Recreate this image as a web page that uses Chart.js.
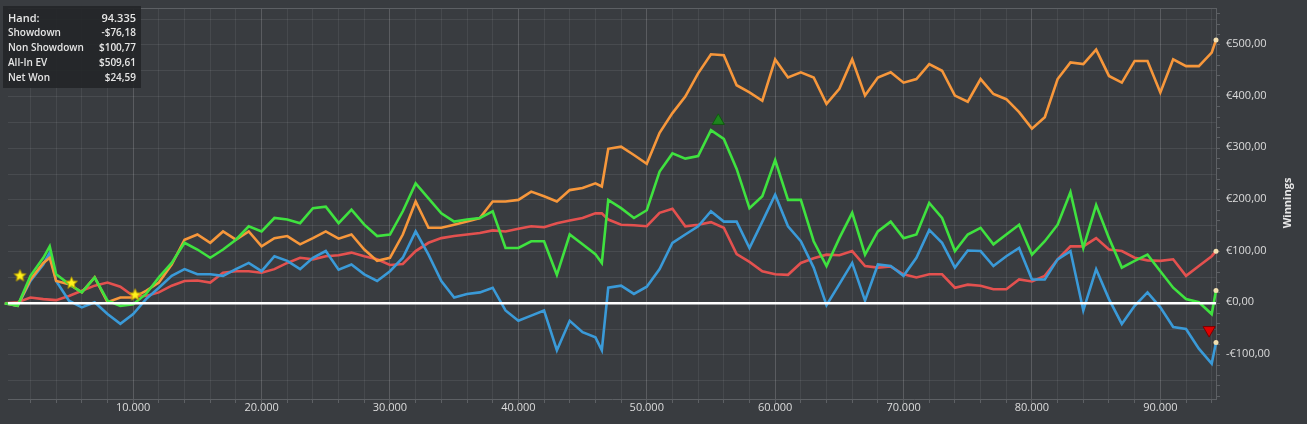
<!DOCTYPE html>
<html>
<head>
<meta charset="utf-8">
<script src="https://cdn.jsdelivr.net/npm/chart.js@4.4.1/dist/chart.umd.min.js"></script>
<style>
	html, body { margin: 0; padding: 0; background: #393c40; }
	#wrap { position: relative; width: 1307px; height: 424px; }
	#info {
		position: absolute; left: 3px; top: 6px; width: 138px; height: 82px;
		background: rgba(36, 38, 40, 0.92); box-sizing: border-box; padding: 4px 5px 0 5px;
		font-family: 'Open Sans', sans-serif; font-weight: 600; color: #e6e6e6;
	}
	.row { display: flex; justify-content: space-between; height: 15px; line-height: 15px; font-size: 10px; }
	.row.first { font-size: 11px; }
</style>
</head>
<body>
<div id="wrap">
	<canvas id="grafico" width="1307" height="424"></canvas>
	<div id="info">
		<div class="row first"><span>Hand:</span><span>94.335</span></div>
		<div class="row"><span>Showdown</span><span>-$76,18</span></div>
		<div class="row"><span>Non Showdown</span><span>$100,77</span></div>
		<div class="row"><span>All-In EV</span><span>$509,61</span></div>
		<div class="row"><span>Net Won</span><span>$24,59</span></div>
	</div>
</div>
<script>
// maos (eixo x)
const hands = [
	0, 1000, 2000, 3000, 3500, 4000, 5000, 6000, 7000, 8000, 9000,
	10000, 11000, 12000, 13000, 14000, 15000, 16000, 17000, 18000, 19000,
	20000, 21000, 22000, 23000, 24000, 25000, 26000, 27000, 28000, 29000,
	30000, 31000, 32000, 33000, 34000, 35000, 36000, 37000, 38000, 39000,
	40000, 41000, 42000, 43000, 44000, 45000, 46000, 46500, 47000, 48000, 49000,
	50000, 51000, 52000, 53000, 54000, 55000, 56000, 57000, 58000, 59000,
	60000, 61000, 62000, 63000, 64000, 65000, 66000, 67000, 68000, 69000,
	70000, 71000, 72000, 73000, 74000, 75000, 76000, 77000, 78000, 79000,
	80000, 81000, 82000, 83000, 84000, 85000, 86000, 87000, 88000, 89000,
	90000, 91000, 92000, 93000, 94000, 94335
];

// marcas do eixo x (linhas de grade a cada 2.000 maos)
const xTicks = [
	2000, 4000, 6000, 8000, 10000, 12000, 14000, 16000, 18000, 20000,
	22000, 24000, 26000, 28000, 30000, 32000, 34000, 36000, 38000, 40000,
	42000, 44000, 46000, 48000, 50000, 52000, 54000, 56000, 58000, 60000,
	62000, 64000, 66000, 68000, 70000, 72000, 74000, 76000, 78000, 80000,
	82000, 84000, 86000, 88000, 90000, 92000, 94000
];

// Net Won (verde)
const netWon = [
	0, -5, 53, 88, 110, 56, 37, 21, 50, 5, -5,
	-2, 18, 50, 78, 117, 104, 88, 104, 123, 149,
	139, 165, 162, 155, 184, 187, 155, 181, 152, 130,
	133, 178, 232, 203, 174, 158, 162, 165, 178, 107,
	107, 120, 120, 55, 133, 114, 95, 78, 200, 184, 165,
	180, 255, 290, 280, 285, 335, 318, 260, 184, 207,
	277, 200, 200, 120, 72, 126, 175, 94, 139, 158,
	126, 133, 194, 165, 101, 133, 146, 114, 133, 152,
	94, 120, 152, 215, 107, 190, 126, 69, 82, 94,
	62, 30, 8, 2, -21, 24.59
];

// All-In EV (laranja)
const allInEV = [
	0, -5, 46, 78, 88, 43, 37, 21, 50, 2, 11,
	11, 24, 40, 75, 123, 133, 117, 139, 123, 139,
	110, 126, 130, 114, 126, 139, 125, 133, 104, 82,
	88, 133, 197, 146, 146, 152, 158, 165, 197, 197,
	200, 216, 207, 197, 219, 223, 232, 226, 299, 303, 287,
	270, 330, 368, 400, 445, 482, 480, 422, 408, 392,
	472, 437, 447, 437, 386, 415, 472, 402, 437, 447,
	427, 434, 463, 450, 402, 390, 434, 405, 395, 370,
	338, 360, 434, 466, 463, 491, 440, 427, 469, 469,
	408, 472, 459, 459, 485, 509.61
];

// Showdown (azul)
const showdown = [
	0, -5, 43, 75, 98, 43, 5, -8, 2, -21, -40,
	-21, 8, 30, 53, 66, 56, 56, 53, 66, 78,
	62, 91, 82, 66, 88, 101, 65, 75, 56, 43,
	62, 88, 139, 94, 43, 11, 18, 21, 30, -14,
	-34, -24, -14, -91, -34, -56, -66, -91, 30, 34, 18,
	32, 66, 117, 133, 149, 178, 158, 158, 107, 158,
	210, 149, 120, 69, -4, 37, 78, 5, 75, 72,
	53, 88, 142, 117, 69, 102, 101, 72, 91, 107,
	46, 46, 85, 101, -14, 66, 8, -40, -5, 21,
	-8, -46, -50, -88, -117, -76.18
];

// Non Showdown (vermelho)
const nonShowdown = [
	0, 2, 11, 8, 7, 6, 14, 24, 34, 40, 32,
	14, 14, 21, 34, 43, 44, 40, 59, 62, 62,
	59, 66, 78, 88, 85, 91, 93, 98, 91, 85,
	74, 76, 101, 117, 126, 130, 133, 136, 141, 139,
	144, 149, 147, 155, 160, 165, 174, 174, 162, 152, 151,
	149, 175, 183, 149, 152, 157, 146, 95, 80, 62,
	56, 55, 78, 87, 94, 93, 101, 72, 69, 71,
	56, 50, 56, 56, 30, 36, 34, 27, 27, 46,
	42, 53, 85, 110, 110, 126, 104, 101, 88, 83,
	82, 85, 53, 72, 91, 100.77
];

// marcadores
const starHands = [1180, 5200, 10150];
const starValues = [53, 39, 16];
const peakHand = [55570];
const peakValue = [353];
const dropHand = [93800];
const dropValue = [-52];

function pontos(xs, ys) {
	return xs.map((x, i) => ({ x: x, y: ys[i] }));
}

function formatHand(v) {
	return String(v).replace(/\B(?=(\d{3})+(?!\d))/g, '.');
}

function formatEuro(v) {
	const s = '€' + Math.abs(v).toFixed(2).replace('.', ',');
	return v < 0 ? '-' + s : s;
}

function criarEstrela(r) {
	const c = document.createElement('canvas');
	const s = Math.ceil(r * 2 + 2);
	c.width = s; c.height = s;
	const g = c.getContext('2d');
	g.beginPath();
	for (let i = 0; i < 10; i++) {
		const a = -Math.PI / 2 + i * Math.PI / 5;
		const rr = i % 2 ? r * 0.45 : r;
		g.lineTo(s / 2 + rr * Math.cos(a), s / 2 + rr * Math.sin(a));
	}
	g.closePath();
	g.fillStyle = '#fff21c';
	g.fill();
	g.strokeStyle = '#b89c00';
	g.lineWidth = 1;
	g.stroke();
	return c;
}

const ultimo = hands.length - 1;
const pontoFinal = ctx => ctx.dataIndex === ultimo ? 2.5 : 0;

function serie(label, valores, cor, ordem) {
	return {
		label: label,
		data: pontos(hands, valores),
		borderColor: cor,
		borderWidth: 2.6,
		pointRadius: pontoFinal,
		pointHoverRadius: 0,
		pointBackgroundColor: '#f2dfb0',
		pointBorderWidth: 0,
		order: ordem,
		clip: false
	};
}

const moldura = {
	id: 'moldura',
	beforeDatasetsDraw(chart) {
		const { ctx, chartArea } = chart;
		ctx.save();
		ctx.strokeStyle = '#5d6064';
		ctx.lineWidth = 1;
		ctx.beginPath();
		ctx.moveTo(chartArea.left, chartArea.top + 0.5);
		ctx.lineTo(chartArea.right, chartArea.top + 0.5);
		ctx.stroke();
		ctx.restore();
	},
	afterDraw(chart) {
		const ctx = chart.ctx;
		ctx.save();
		ctx.translate(1288, 203);
		ctx.rotate(-Math.PI / 2);
		ctx.font = "bold 11px 'Open Sans'";
		ctx.fillStyle = '#e6e6e6';
		ctx.textAlign = 'center';
		ctx.textBaseline = 'middle';
		ctx.fillText('Winnings', 0, 0);
		ctx.restore();
	}
};

const corEixo = '#5d6064';

new Chart(document.getElementById('grafico'), {
	type: 'line',
	data: {
		datasets: [
			{
				data: pontos(starHands, starValues),
				showLine: false,
				pointStyle: criarEstrela(6.2),
				pointRadius: 6,
				pointHoverRadius: 6,
				order: 0,
				clip: false
			},
			{
				data: pontos(peakHand, peakValue),
				showLine: false,
				pointStyle: 'triangle',
				pointRadius: 7,
				pointHoverRadius: 7,
				pointBackgroundColor: '#1d861d',
				pointBorderColor: '#0f5a0f',
				pointBorderWidth: 1,
				order: 0,
				clip: false
			},
			{
				data: pontos(dropHand, dropValue),
				showLine: false,
				pointStyle: 'triangle',
				rotation: 180,
				pointRadius: 7,
				pointHoverRadius: 7,
				pointBackgroundColor: '#e00000',
				pointBorderColor: '#7a0000',
				pointBorderWidth: 1,
				order: 0,
				clip: false
			},
			{
				data: [{ x: hands[0], y: 0 }, { x: hands[ultimo], y: 0 }],
				borderColor: '#ffffff',
				borderWidth: 2.5,
				pointRadius: 0,
				order: 1
			},
			serie('Net Won', netWon, '#3fe23f', 2),
			serie('All-In EV', allInEV, '#f7973b', 3),
			serie('Showdown', showdown, '#3a9ad8', 4),
			serie('Non Showdown', nonShowdown, '#e4514f', 5)
		]
	},
	options: {
		responsive: false,
		animation: false,
		events: [],
		layout: { padding: { top: 5, left: 0, right: 0, bottom: 0 } },
		plugins: { legend: { display: false }, tooltip: { enabled: false } },
		scales: {
			x: {
				type: 'linear',
				min: 250,
				max: 94335,
				border: { display: true, color: corEixo, width: 1 },
				grid: {
					color: c => c.tick.value % 10000 === 0 ? 'rgba(255,255,255,0.17)' : 'rgba(255,255,255,0.07)',
					tickColor: corEixo,
					tickLength: 4,
					drawTicks: true
				},
				afterBuildTicks: s => { s.ticks = xTicks.map(v => ({ value: v })); },
				ticks: {
					autoSkip: false,
					maxRotation: 0,
					minRotation: 0,
					padding: -2,
					color: '#dcdcdc',
					font: { family: "'Open Sans'", size: 11 },
					callback: v => v % 10000 === 0 ? formatHand(v) : ''
				},
				afterFit: s => { s.height = 25; s.paddingLeft = 0; s.paddingRight = 0; }
			},
			y: {
				type: 'linear',
				position: 'right',
				min: -185.4,
				max: 571.5,
				border: { display: true, color: corEixo, width: 1 },
				grid: {
					color: c => c.tick.value % 50 === 0 ? 'rgba(255,255,255,0.08)' : 'rgba(0,0,0,0)',
					tickColor: c => c.tick.value % 20 === 0 ? corEixo : 'rgba(0,0,0,0)',
					tickLength: 4,
					drawTicks: true
				},
				ticks: {
					stepSize: 10,
					autoSkip: false,
					includeBounds: false,
					padding: 6,
					labelOffset: -1,
					color: '#dcdcdc',
					font: { family: "'Open Sans'", size: 11 },
					callback: v => v % 100 === 0 ? formatEuro(v) : ''
				},
				afterFit: s => { s.width = 91; s.paddingTop = 0; s.paddingBottom = 0; }
			}
		}
	},
	plugins: [moldura]
});
</script>
</body>
</html>
